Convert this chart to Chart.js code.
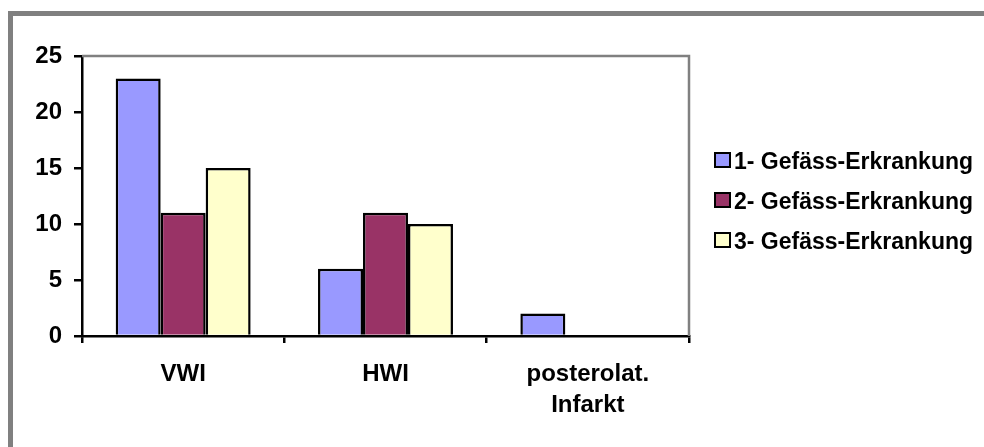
<!DOCTYPE html>
<html>
<head>
<meta charset="utf-8">
<script src="https://cdn.jsdelivr.net/npm/chart.js@4/dist/chart.umd.min.js"></script>
<style>
  html, body { margin: 0; padding: 0; background: #fff; overflow: hidden; }
  #wrap { position: relative; width: 984px; height: 447px; }
  #frame { position: absolute; left: 8px; top: 11px; width: 1000px; height: 500px;
           border-top: 5px solid #808080; border-left: 5px solid #808080; }
  canvas { position: absolute; left: 0; top: 0; }
</style>
</head>
<body>
<div id="wrap">
  <div id="frame"></div>
  <canvas id="myChart" width="984" height="447"></canvas>
</div>
<script>
const categories = ['VWI', 'HWI', ['posterolat.', 'Infarkt']];
const seriesNames = ['1- Gefäss-Erkrankung', '2- Gefäss-Erkrankung', '3- Gefäss-Erkrankung'];
const gefaess1 = [23, 6, 2];
const gefaess2 = [11, 11, 0];
const gefaess3 = [15, 10, 0];
const colors = ['#9999FF', '#993366', '#FFFFCC'];

const FONT = 'Liberation Sans, Arial, sans-serif';

// gray top/right edge of the plot area + legend at the right
const plotExtras = {
    id: 'plotExtras',
    beforeDatasetsDraw(chart) {
        const { ctx, chartArea } = chart;
        ctx.save();
        ctx.strokeStyle = '#808080';
        ctx.lineWidth = 2.5;
        ctx.beginPath();
        ctx.moveTo(chartArea.left, chartArea.top);
        ctx.lineTo(chartArea.right, chartArea.top);
        ctx.lineTo(chartArea.right, chartArea.bottom);
        ctx.stroke();
        ctx.restore();
    },
    afterDraw(chart) {
        const ctx = chart.ctx;
        ctx.save();
        ctx.font = 'bold 23px ' + FONT;
        ctx.textBaseline = 'alphabetic';
        chart.data.datasets.forEach((ds, i) => {
            const cy = 160 + i * 40;
            ctx.fillStyle = ds.backgroundColor;
            ctx.fillRect(715, cy - 7, 15, 14);
            ctx.strokeStyle = '#000';
            ctx.lineWidth = 2;
            ctx.strokeRect(715, cy - 7, 15, 14);
            ctx.fillStyle = '#000';
            ctx.fillText(ds.label, 734, cy + 9);
        });
        ctx.restore();
    }
};

const ctx = document.getElementById('myChart');
const myChart = new Chart(ctx, {
    type: 'bar',
    data: {
        labels: categories,
        datasets: [gefaess1, gefaess2, gefaess3].map((d, i) => ({
            label: seriesNames[i],
            data: d,
            backgroundColor: colors[i],
            borderColor: '#000',
            borderWidth: 2.5,
            categoryPercentage: 0.667,
            barPercentage: 1.0
        }))
    },
    options: {
        responsive: false,
        animation: false,
        layout: { padding: { top: 56, right: 295, left: 0, bottom: 0 } },
        plugins: {
            legend: { display: false },
            tooltip: { enabled: false }
        },
        scales: {
            x: {
                afterFit(scale) { scale.height = 111; },
                grid: { drawOnChartArea: false, color: '#000', lineWidth: 2.5, tickLength: 7 },
                border: { color: '#000', width: 2.5 },
                ticks: {
                    color: '#000',
                    padding: 16,
                    font: { family: FONT, size: 24, weight: 'bold', lineHeight: 1.3 }
                }
            },
            y: {
                min: 0,
                max: 25,
                afterFit(scale) { scale.width = 82; },
                grid: { drawOnChartArea: false, color: '#000', lineWidth: 2.5, tickLength: 8 },
                border: { color: '#000', width: 2.5 },
                ticks: {
                    stepSize: 5,
                    color: '#000',
                    padding: 12,
                    font: { family: FONT, size: 24, weight: 'bold' }
                }
            }
        }
    },
    plugins: [plotExtras]
});
</script>
</body>
</html>
